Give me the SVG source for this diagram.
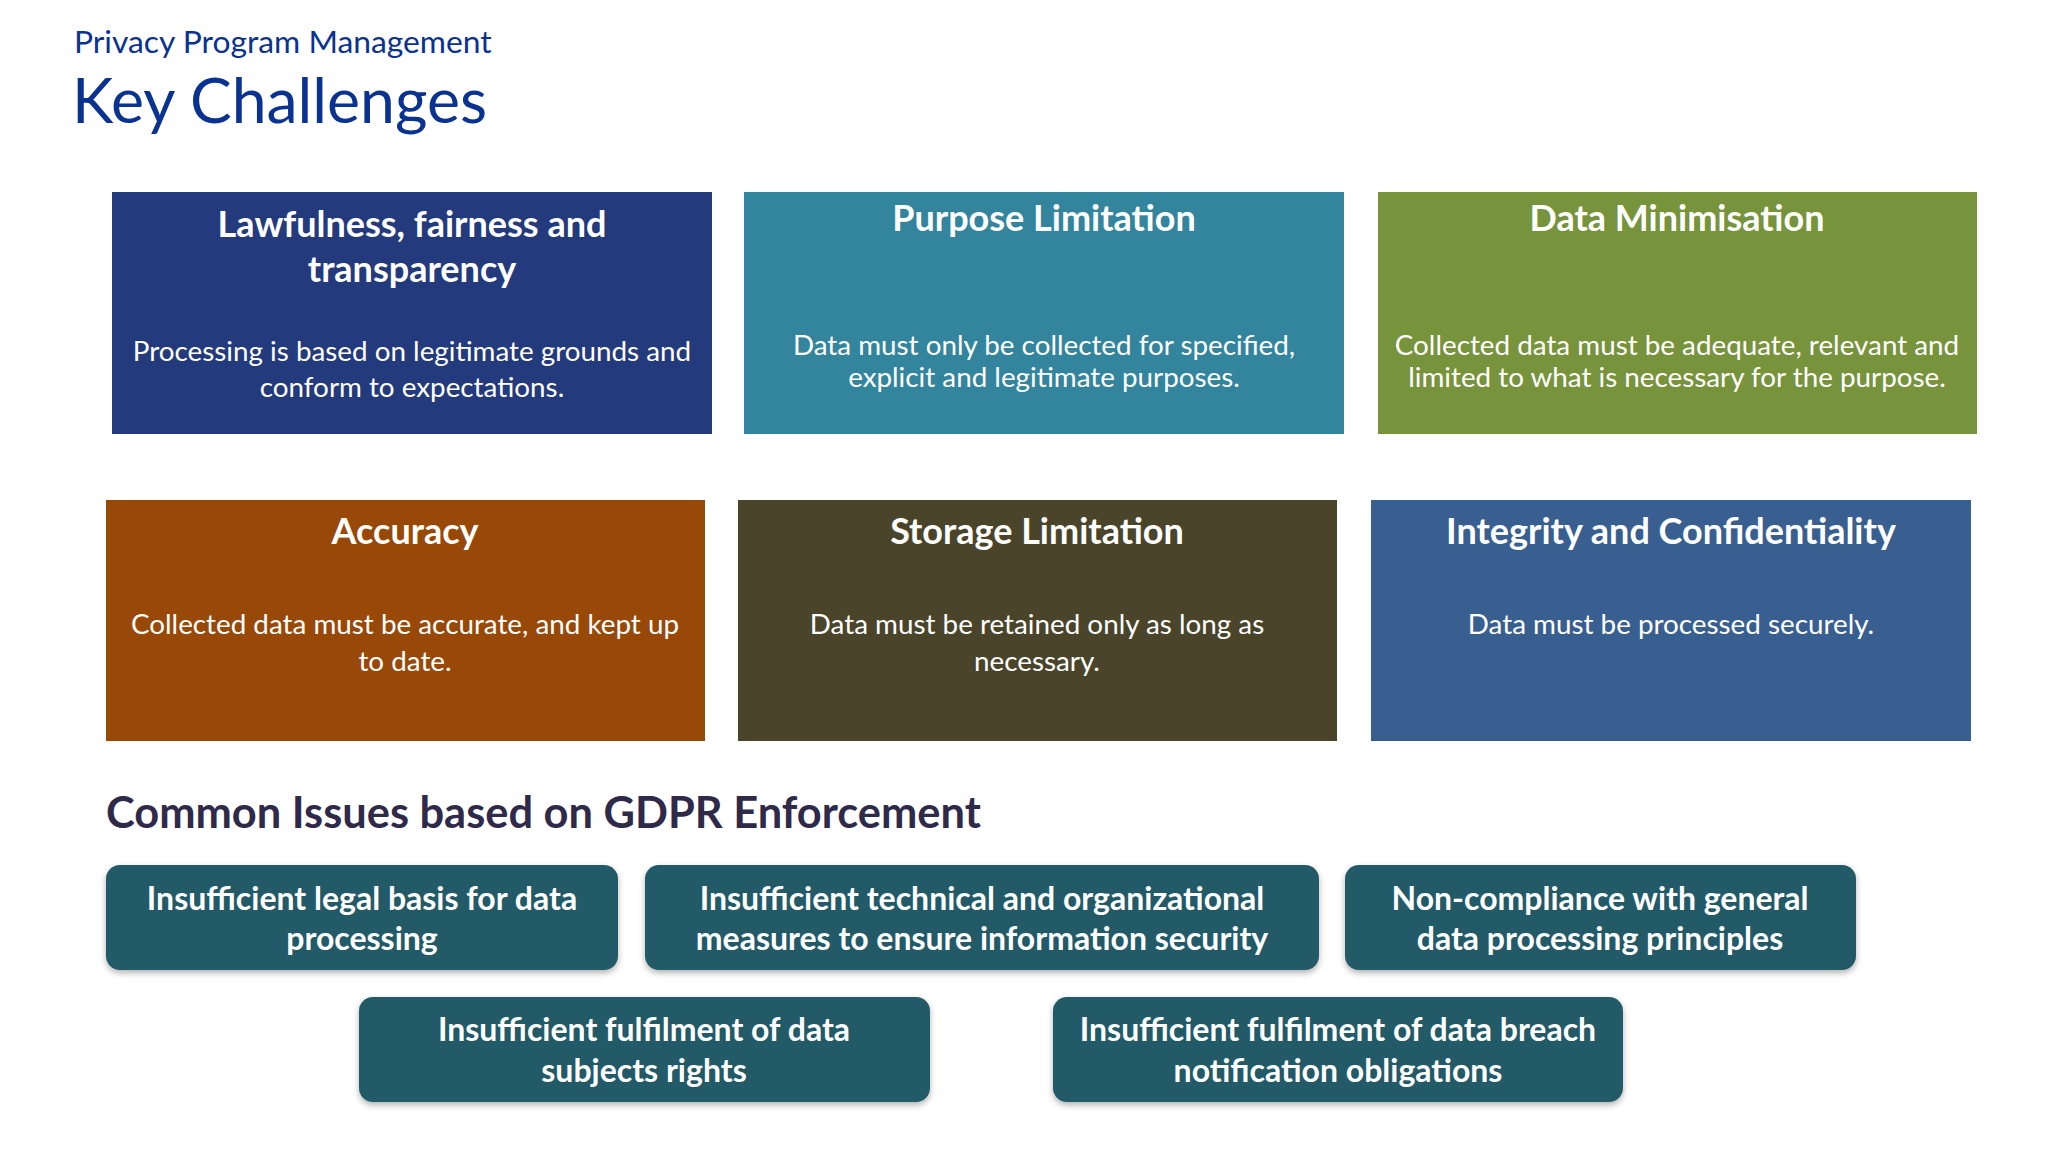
<svg xmlns="http://www.w3.org/2000/svg" width="2048" height="1152" viewBox="0 0 2048 1152">
<style>
.t{font-family:Lato,"Open Sans",sans-serif;fill:#fff;text-anchor:middle}
.h{font-weight:700;font-size:36px}
.b{font-size:27.8px}
.i{font-weight:700;font-size:32px}
</style>
<defs>
<filter id="sh" x="-5%" y="-10%" width="110%" height="130%">
<feDropShadow dx="0" dy="3" stdDeviation="3" flood-color="#000" flood-opacity="0.3"/>
</filter>
</defs>
<rect width="2048" height="1152" fill="#fff"/>
<g id="title">
<text x="74" y="53" font-family="Lato,sans-serif" font-size="31.8" fill="#0a3291">Privacy Program Management</text>
<text x="72" y="123" font-family="Lato,sans-serif" font-size="62.5" fill="#0a3291">Key Challenges</text>
</g>
<g id="p1">
<rect x="112" y="192" width="600" height="242" fill="#233a7c"/>
<text class="t h" x="412" y="237">Lawfulness, fairness and</text>
<text class="t h" x="412" y="282">transparency</text>
<text class="t b" x="412" y="361">Processing is based on legitimate grounds and</text>
<text class="t b" x="412" y="397">conform to expectations.</text>
</g>
<g id="p2">
<rect x="744" y="192" width="600" height="242" fill="#33859d"/>
<text class="t h" x="1044" y="231">Purpose Limitation</text>
<text class="t b" x="1044" y="355">Data must only be collected for specified,</text>
<text class="t b" x="1044" y="387">explicit and legitimate purposes.</text>
</g>
<g id="p3">
<rect x="1378" y="192" width="599" height="242" fill="#77933c"/>
<text class="t h" x="1677" y="231">Data Minimisation</text>
<text class="t b" x="1677" y="355">Collected data must be adequate, relevant and</text>
<text class="t b" x="1677" y="387">limited to what is necessary for the purpose.</text>
</g>
<g id="p4">
<rect x="106" y="500" width="599" height="241" fill="#984807"/>
<text class="t h" x="405" y="544">Accuracy</text>
<text class="t b" x="405" y="634">Collected data must be accurate, and kept up</text>
<text class="t b" x="405" y="671">to date.</text>
</g>
<g id="p5">
<rect x="738" y="500" width="599" height="241" fill="#4a452a"/>
<text class="t h" x="1037" y="544">Storage Limitation</text>
<text class="t b" x="1037" y="634">Data must be retained only as long as</text>
<text class="t b" x="1037" y="671">necessary.</text>
</g>
<g id="p6">
<rect x="1371" y="500" width="600" height="241" fill="#395f91"/>
<text class="t h" x="1671" y="544">Integrity and Confidentiality</text>
<text class="t b" x="1671" y="634">Data must be processed securely.</text>
</g>
<g id="heading">
<text x="106" y="828" font-family="Lato,sans-serif" font-weight="700" font-size="43.4" fill="#2f2a4a">Common Issues based on GDPR Enforcement</text>
</g>
<g id="c1">
<rect x="106" y="865" width="512" height="105" rx="14" fill="#215a67" filter="url(#sh)"/>
<text class="t i" x="362" y="910">Insufficient legal basis for data</text>
<text class="t i" x="362" y="950">processing</text>
</g>
<g id="c2">
<rect x="645" y="865" width="674" height="105" rx="14" fill="#215a67" filter="url(#sh)"/>
<text class="t i" x="982" y="910">Insufficient technical and organizational</text>
<text class="t i" x="982" y="950">measures to ensure information security</text>
</g>
<g id="c3">
<rect x="1345" y="865" width="511" height="105" rx="14" fill="#215a67" filter="url(#sh)"/>
<text class="t i" x="1600" y="910">Non-compliance with general</text>
<text class="t i" x="1600" y="950">data processing principles</text>
</g>
<g id="c4">
<rect x="359" y="997" width="571" height="105" rx="14" fill="#215a67" filter="url(#sh)"/>
<text class="t i" x="644" y="1041">Insufficient fulfilment of data</text>
<text class="t i" x="644" y="1082">subjects rights</text>
</g>
<g id="c5">
<rect x="1053" y="997" width="570" height="105" rx="14" fill="#215a67" filter="url(#sh)"/>
<text class="t i" x="1338" y="1041">Insufficient fulfilment of data breach</text>
<text class="t i" x="1338" y="1082">notification obligations</text>
</g>
<g id="connectors"></g>
</svg>
